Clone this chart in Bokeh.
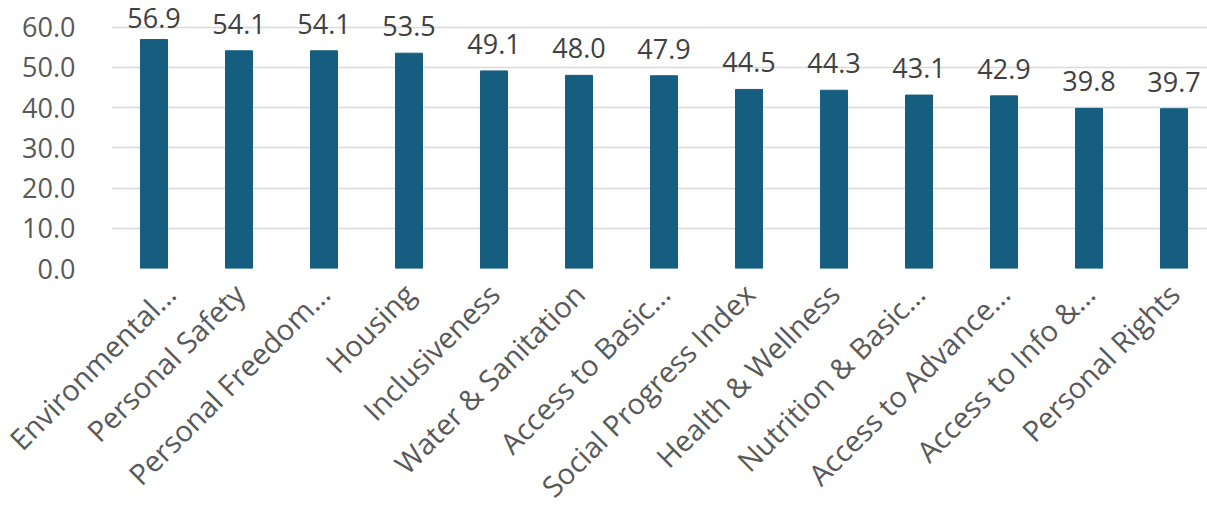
from bokeh.plotting import figure
from bokeh.models import ColumnDataSource, Range1d, FixedTicker, LabelSet, NumeralTickFormatter
from bokeh.core.properties import value
from bokeh.embed import file_html
from bokeh.resources import INLINE
import math

categories = ["Environmental…", "Personal Safety", "Personal Freedom…", "Housing",
              "Inclusiveness", "Water & Sanitation", "Access to Basic…",
              "Social Progress Index", "Health & Wellness", "Nutrition & Basic…",
              "Access to Advance…", "Access to Info &…", "Personal Rights"]
values = [56.9, 54.1, 54.1, 53.5, 49.1, 48.0, 47.9, 44.5, 44.3, 43.1, 42.9, 39.8, 39.7]
y_ticks = [0, 10, 20, 30, 40, 50, 60]

idx = list(range(len(categories)))
# label anchors: labels near the top of the frame are pushed down (as in the original chart)
label_y = [min(v, 55.5) for v in values]
src = ColumnDataSource(dict(x=idx, v=values, ly=label_y, lab=[f"{v:.1f}" for v in values]))

p = figure(width=1207, height=521, output_backend="svg", toolbar_location=None,
           x_range=Range1d(-0.5, len(categories) - 0.5 - 9 / 85),
           y_range=Range1d(0, 66.6),
           min_border_left=111, min_border_right=0, min_border_top=0, min_border_bottom=250)
p.outline_line_color = None
p.background_fill_color = "white"
p.border_fill_color = "white"

p.vbar(x="x", top="v", width=0.318, bottom=0, source=src, color="#165E80")

labels = LabelSet(x="x", y="ly", text="lab", source=src, text_align="center",
                  text_baseline="bottom", y_offset=17, text_font=value("Open Sans"),
                  text_font_size="27px", text_color="#404040")
p.add_layout(labels)

p.yaxis.ticker = FixedTicker(ticks=y_ticks)
p.yaxis.formatter = NumeralTickFormatter(format="0.0")
p.yaxis.axis_line_color = None
p.yaxis.major_tick_line_color = None
p.yaxis.minor_tick_line_color = None
p.yaxis.major_label_standoff = 30
p.yaxis.major_label_text_font = "Open Sans"
p.yaxis.major_label_text_font_size = "27px"
p.yaxis.major_label_text_color = "#595959"

p.xaxis.ticker = FixedTicker(ticks=idx)
p.xaxis.major_label_overrides = {i: c for i, c in zip(idx, categories)}
p.xaxis.major_label_orientation = math.pi / 4
p.xaxis.axis_line_color = None
p.xaxis.major_tick_line_color = None
p.xaxis.minor_tick_line_color = None
p.xaxis.major_label_standoff = 14
p.xaxis.major_label_text_font = "Open Sans"
p.xaxis.major_label_text_font_size = "29px"
p.xaxis.major_label_text_color = "#595959"

p.xgrid.grid_line_color = None
p.ygrid.ticker = FixedTicker(ticks=y_ticks)
p.ygrid.grid_line_color = "#D9D9D9"
p.ygrid.grid_line_width = 1.5

open("out.html", "w").write(file_html(p, INLINE))
